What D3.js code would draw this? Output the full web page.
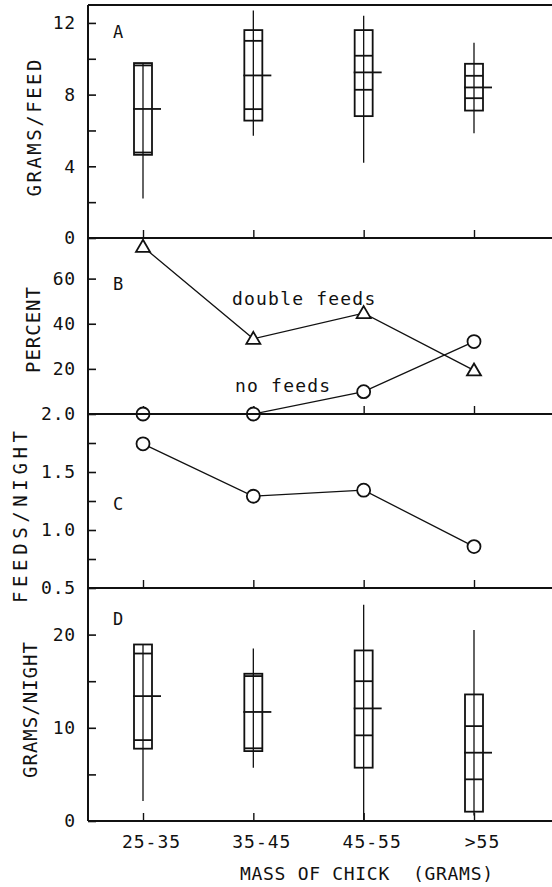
<!DOCTYPE html>
<html>
<head>
<meta charset="utf-8">
<script src="https://cdn.jsdelivr.net/npm/d3@7"></script>
<style>
  body { margin: 0; background: #fff; }
  text { font-family: "DejaVu Sans Mono", monospace; fill: #111; white-space: pre; }
</style>
</head>
<body>
<div class="chart"></div>
<script>
// categories (mass of chick)
var categories = ["25-35", "35-45", "45-55", ">55"];

// panel A: grams per feed
var feedMin     = [2.2, 5.7, 4.2, 5.85];
var feedMax     = [9.75, 12.7, 12.4, 10.9];
var feedBoxLo   = [4.64, 6.55, 6.8, 7.11];
var feedBoxHi   = [9.76, 11.6, 11.6, 9.72];
var feedInLo    = [4.77, 7.19, 8.27, 7.8];
var feedInHi    = [9.63, 11.0, 10.17, 9.05];
var feedMean    = [7.2, 9.07, 9.24, 8.4];

// panel B: percent of nights
var doubleFeeds = [74.1, 33.3, 44.7, 19.3];
var noFeeds     = [0, 0, 9.9, 32.1];

// panel C: feeds per night
var feedsNight  = [1.743, 1.291, 1.343, 0.857];

// panel D: grams per night
var nightMin    = [2.14, 5.72, 0, 0.6];
var nightMax    = [18.94, 18.5, 23.2, 20.5];
var nightBoxLo  = [7.76, 7.5, 5.72, 1.0];
var nightBoxHi  = [18.94, 15.8, 18.3, 13.58];
var nightInLo   = [8.68, 7.8, 9.19, 4.47];
var nightInHi   = [17.97, 15.55, 15.0, 10.18];
var nightMean   = [13.4, 11.7, 12.08, 7.33];

// tick values
var ticksA = [0, 4, 8, 12], minorA = [2, 6, 10];
var ticksB = [20, 40, 60];
var ticksC = [0.5, 1.0, 1.5, 2.0], minorC = [0.75, 1.25, 1.75];
var ticksD = [0, 10, 20], minorD = [5, 15];

var svgWidth = 552, svgHeight = 887;
var left = 88, right = 600;

var svg = d3.select(".chart").append("svg")
  .attr("width", svgWidth)
  .attr("height", svgHeight);

var x = d3.scalePoint().domain(categories).range([143, 474]);

// one y scale per panel
var yA = d3.scaleLinear().domain([0, 13]).range([238, 5]);
var yB = d3.scaleLinear().domain([0, 78]).range([414, 238]);
var yC = d3.scaleLinear().domain([0.5, 2.0]).range([588, 414]);
var yD = d3.scaleLinear().domain([0, 25]).range([821, 588]);

// left axes with inward ticks
function leftAxis(y, values, fmt, minor) {
  var g = svg.append("g").attr("transform", "translate(" + left + ",0)");
  g.call(d3.axisLeft(y).tickValues(values).tickSize(-8).tickPadding(12).tickFormat(fmt));
  if (minor) {
    g.append("g").call(d3.axisLeft(y).tickValues(minor).tickSize(-8).tickFormat(""));
  }
  g.selectAll(".domain").remove();
  g.selectAll("line").attr("stroke", "#111").attr("stroke-width", 1.6);
  g.selectAll("text").style("font-size", "18px").style("font-family", "DejaVu Sans Mono")
    .style("letter-spacing", "0.8px").attr("fill", "#111");
  return g;
}
leftAxis(yA, ticksA, d3.format("d"), minorA);
leftAxis(yB, ticksB, d3.format("d"));
leftAxis(yC, ticksC, d3.format(".1f"), minorC);
leftAxis(yD, ticksD, d3.format("d"), minorD);

// category ticks on the bottom of each panel, pointing up
[yA, yB, yC, yD].forEach(function (y, i) {
  var g = svg.append("g").attr("transform", "translate(0," + y.range()[0] + ")");
  g.call(d3.axisBottom(x).tickSize(-8).tickPadding(14));
  g.selectAll(".domain").remove();
  g.selectAll("line").attr("stroke", "#111").attr("stroke-width", 1.4);
  if (i < 3) {
    g.selectAll("text").remove();
  } else {
    g.selectAll("text")
      .attr("dx", 8)
      .attr("y", 27).attr("dy", 0)
      .style("font-size", "18px").style("letter-spacing", "1px")
      .attr("fill", "#111");
  }
});

// frame and panel dividers
var frame = svg.append("g").attr("stroke", "#111").attr("stroke-width", 2).attr("fill", "none");
frame.append("line").attr("x1", left).attr("x2", left).attr("y1", yA.range()[1]).attr("y2", yD.range()[0]);
[yA.range()[1], yA.range()[0], yB.range()[0], yC.range()[0], yD.range()[0]].forEach(function (yy) {
  frame.append("line").attr("x1", left).attr("x2", right).attr("y1", yy).attr("y2", yy);
});

// box plot: whisker line through box, box, inner lines, long mean line
function boxes(y, mn, mx, lo, hi, inLo, inHi, mean) {
  var g = svg.append("g").attr("stroke", "#111").attr("fill", "none");
  var bw = 9;
  categories.forEach(function (c, i) {
    var cx = x(c);
    g.append("line").attr("x1", cx).attr("x2", cx)
      .attr("y1", y(mn[i])).attr("y2", y(mx[i])).attr("stroke-width", 1.3);
    g.append("rect").attr("x", cx - bw).attr("width", bw * 2)
      .attr("y", y(hi[i])).attr("height", y(lo[i]) - y(hi[i])).attr("stroke-width", 1.8);
    [inLo[i], inHi[i]].forEach(function (v) {
      g.append("line").attr("x1", cx - bw).attr("x2", cx + bw)
        .attr("y1", y(v)).attr("y2", y(v)).attr("stroke-width", 1.8);
    });
    g.append("line").attr("x1", cx - 10).attr("x2", cx + 18)
      .attr("y1", y(mean[i])).attr("y2", y(mean[i])).attr("stroke-width", 1.8);
  });
}
boxes(yA, feedMin, feedMax, feedBoxLo, feedBoxHi, feedInLo, feedInHi, feedMean);
boxes(yD, nightMin, nightMax, nightBoxLo, nightBoxHi, nightInLo, nightInHi, nightMean);

// line series with markers
function series(y, values, marker) {
  var line = d3.line().x(function (d, i) { return x(categories[i]); }).y(function (d) { return y(d); });
  svg.append("path").datum(values).attr("d", line)
    .attr("fill", "none").attr("stroke", "#111").attr("stroke-width", 1.3);
  var g = svg.append("g").attr("fill", "#fff").attr("stroke", "#111").attr("stroke-width", 1.8);
  values.forEach(function (v, i) {
    var cx = x(categories[i]), cy = y(v);
    if (marker === "circle") {
      g.append("circle").attr("cx", cx).attr("cy", cy).attr("r", 6.5);
    } else {
      g.append("path").attr("d", "M" + cx + "," + (cy - 7) + "L" + (cx + 7) + "," + (cy + 5) + "L" + (cx - 7) + "," + (cy + 5) + "Z");
    }
  });
}
series(yB, doubleFeeds, "triangle");
series(yB, noFeeds, "circle");
series(yC, feedsNight, "circle");

// line across the circles sitting on zero
svg.append("line").attr("x1", left).attr("x2", right)
  .attr("y1", yB(0)).attr("y2", yB(0)).attr("stroke", "#111").attr("stroke-width", 2);

// series labels
svg.append("text").attr("x", 232).attr("y", 305).style("font-size", "18px")
  .style("letter-spacing", "1.2px").text("double feeds");
svg.append("text").attr("x", 235).attr("y", 392).style("font-size", "18px")
  .style("letter-spacing", "1.2px").text("no feeds");

// panel letters
[["A", 38], ["B", 290], ["C", 510], ["D", 625]].forEach(function (p) {
  svg.append("text").attr("x", 113).attr("y", p[1]).style("font-size", "17px").text(p[0]);
});

// axis titles
var titles = [["GRAMS/FEED", 41, 128, 137, 19], ["PERCENT", 40, 330, 86, 19],
              ["FEEDS/NIGHT", 27, 517, 172, 19], ["GRAMS/NIGHT", 37, 710, 136, 19]];
titles.forEach(function (t) {
  svg.append("text")
    .attr("transform", "translate(" + t[1] + "," + t[2] + ") rotate(-90)")
    .attr("text-anchor", "middle")
    .attr("textLength", t[3]).attr("lengthAdjust", "spacing")
    .style("font-size", t[4] + "px")
    .text(t[0]);
});

svg.append("text").attr("x", 240).attr("y", 880)
  .attr("textLength", 253).attr("lengthAdjust", "spacing")
  .style("font-size", "18px")
  .text("MASS OF CHICK  (GRAMS)");
</script>
</body>
</html>
